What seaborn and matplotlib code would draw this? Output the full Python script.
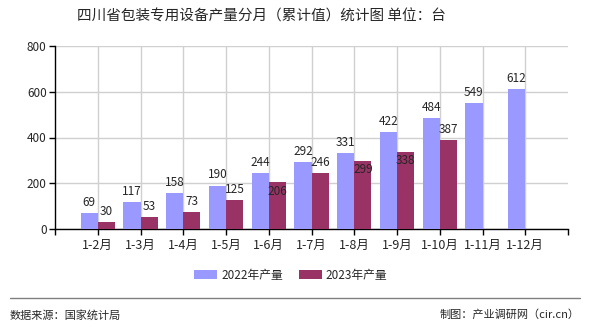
import numpy as np
import pandas as pd
import matplotlib
matplotlib.use("Agg")
import matplotlib.pyplot as plt
import seaborn as sns

categories = ["1-2月", "1-3月", "1-4月", "1-5月", "1-6月", "1-7月", "1-8月", "1-9月", "1-10月", "1-11月", "1-12月"]
values_2022 = [69, 117, 158, 190, 244, 292, 331, 422, 484, 549, 612]
values_2023 = [30, 53, 73, 125, 206, 246, 299, 338, 387, np.nan, np.nan]
series_names = ["2022年产量", "2023年产量"]
title = "四川省包装专用设备产量分月（累计值）统计图 单位：台"
y_ticks = [0, 200, 400, 600, 800]

# 2023 label placement: True = above the bar, False = just inside the top
above_2023 = [True, True, True, True, False, True, False, False, True, True, True]

sns.set_theme(style="white")
plt.rcParams['font.family'] = ['Noto Sans CJK SC', 'DejaVu Sans']

df = pd.DataFrame({
    "cat": categories * 2,
    "val": values_2022 + values_2023,
    "series": [series_names[0]] * len(categories) + [series_names[1]] * len(categories),
})

fig = plt.figure(figsize=(5.9, 3.3), dpi=100)
ax = fig.add_axes([55/590, 1-229/330, (568-55)/590, (229-46)/330])

palette = {series_names[0]: "#9999FF", series_names[1]: "#993366"}
sns.barplot(data=df, x="cat", y="val", hue="series", order=categories,
            hue_order=series_names, palette=palette, width=0.8, dodge=True,
            saturation=1, errorbar=None, ax=ax, zorder=3, linewidth=0, edgecolor="none")

ax.set_xlim(-1, len(categories))
ax.set_ylim(0, 800)
ax.set_yticks(y_ticks)
ax.set_xlabel("")
ax.set_ylabel("")
ax.grid(True, color="#d0d0d0", linewidth=1, zorder=0)
ax.set_axisbelow(True)
for s in ["top", "right"]:
    ax.spines[s].set_visible(False)
for s in ["left", "bottom"]:
    ax.spines[s].set_color("black")
    ax.spines[s].set_linewidth(1)
ax.set_xticks([-1, len(categories)], minor=True)
ax.tick_params(axis="both", which="both", direction="out", length=4, width=1, color="black",
               labelsize=8.5, pad=2, bottom=True, left=True)
ax.tick_params(axis="x", pad=3, labelsize=9)

# value labels
c22, c23 = ax.containers[0], ax.containers[1]
for bar, v in zip(c22, values_2022):
    if np.isnan(v):
        continue
    ax.annotate(f"{int(v)}", (bar.get_x() + bar.get_width()/2, v), xytext=(0, 3),
                textcoords="offset points", ha="center", va="bottom", fontsize=8.5, zorder=5)
for bar, v, up in zip(c23, values_2023, above_2023):
    if np.isnan(v):
        continue
    ax.annotate(f"{int(v)}", (bar.get_x() + bar.get_width()/2, v),
                xytext=(0, 3 if up else -2), textcoords="offset points",
                ha="center", va="bottom" if up else "top", fontsize=8.5, zorder=5)

leg = ax.legend(loc="center", bbox_to_anchor=(291/590, (330-275)/330), bbox_transform=fig.transFigure,
                ncol=2, frameon=False, fontsize=8.5, handlelength=1.9, handleheight=0.8,
                columnspacing=1.4, handletextpad=0.35)

fig.text(261/590, 1-17/330, title, ha="center", va="center", fontsize=10.5)
fig.add_artist(plt.Line2D([10/590, 580/590], [1-298/330, 1-298/330], color="#808080", linewidth=1))
fig.text(10/590, 1-315/330, "数据来源：国家统计局", ha="left", va="center", fontsize=8)
fig.text(580/590, 1-315/330, "制图：产业调研网（cir.cn）", ha="right", va="center", fontsize=8)

fig.savefig("out.png", dpi=100)
